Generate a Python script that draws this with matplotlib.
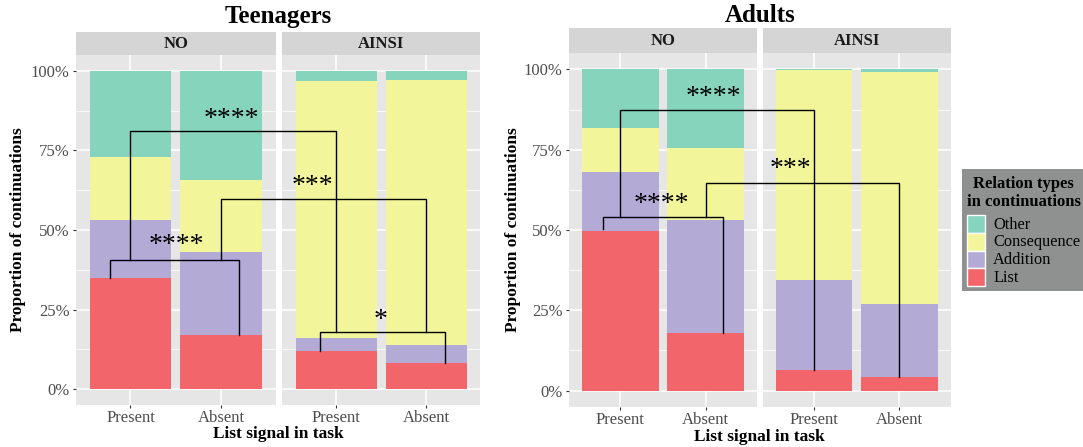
import matplotlib
matplotlib.use('Agg')
import matplotlib.pyplot as plt
from matplotlib.patches import Rectangle
from matplotlib.lines import Line2D
from matplotlib.transforms import offset_copy

plt.rcParams['font.family'] = ['Liberation Serif', 'DejaVu Serif']

# ---------------- data ----------------
relation_types = ['List', 'Addition', 'Consequence', 'Other']
relation_colors = ['#F2666B', '#B3AAD6', '#F3F59B', '#86D4BC']
facets = ['NO', 'AINSI']
conditions = ['Present', 'Absent']

# proportions, order: [Present, Absent] for each facet
teen_NO_list = [0.350, 0.171]
teen_NO_addition = [0.181, 0.260]
teen_NO_consequence = [0.200, 0.227]
teen_NO_other = [0.269, 0.342]
teen_AINSI_list = [0.121, 0.081]
teen_AINSI_addition = [0.039, 0.059]
teen_AINSI_consequence = [0.808, 0.831]
teen_AINSI_other = [0.032, 0.029]

adult_NO_list = [0.498, 0.180]
adult_NO_addition = [0.184, 0.350]
adult_NO_consequence = [0.134, 0.224]
adult_NO_other = [0.184, 0.246]
adult_AINSI_list = [0.065, 0.044]
adult_AINSI_addition = [0.278, 0.227]
adult_AINSI_consequence = [0.654, 0.720]
adult_AINSI_other = [0.003, 0.009]

# brackets: (facet_left, x_left, facet_right, x_right, y_top, y_left_end, y_right_end)
teen_brackets = [
    ('NO', 0.78, 'NO', 2.20, 0.405, 0.350, 0.171),
    ('NO', 1.00, 'AINSI', 1.00, 0.810, 0.405, 0.178),
    ('NO', 2.00, 'AINSI', 2.00, 0.598, 0.405, 0.178),
    ('AINSI', 0.82, 'AINSI', 2.21, 0.178, 0.121, 0.081),
]
teen_labels = [('NO', 2.11, 0.876, '****'), ('AINSI', 0.735, 0.664, '***'),
               ('NO', 1.51, 0.479, '****'), ('AINSI', 1.50, 0.242, '*')]
adult_brackets = [
    ('NO', 0.80, 'NO', 2.20, 0.540, 0.503, 0.178),
    ('NO', 1.00, 'AINSI', 1.00, 0.874, 0.540, 0.063),
    ('NO', 2.00, 'AINSI', 2.00, 0.646, 0.540, 0.041),
]
adult_labels = [('NO', 2.09, 0.940, '****'), ('AINSI', 0.72, 0.717, '***'),
                ('NO', 1.48, 0.608, '****')]

teen = {
    'NO': [teen_NO_list, teen_NO_addition, teen_NO_consequence, teen_NO_other],
    'AINSI': [teen_AINSI_list, teen_AINSI_addition, teen_AINSI_consequence, teen_AINSI_other],
}
adult = {
    'NO': [adult_NO_list, adult_NO_addition, adult_NO_consequence, adult_NO_other],
    'AINSI': [adult_AINSI_list, adult_AINSI_addition, adult_AINSI_consequence, adult_AINSI_other],
}

# ---------------- layout ----------------
W, H = 1083, 447
fig = plt.figure(figsize=(W / 100, H / 100), dpi=100)


def box(x0, x1, y0, y1):
    return [x0 / W, 1 - y1 / H, (x1 - x0) / W, (y1 - y0) / H]


PANEL_BG = '#E6E6E6'
STRIP_BG = '#D5D5D5'
TXT_GREY = '#4D4D4D'


def make_panel(data, facet_boxes, strip_y, panel_y):
    axes = {}
    for fi, facet in enumerate(facets):
        x0, x1 = facet_boxes[fi]
        ax = fig.add_axes(box(x0, x1, panel_y[0], panel_y[1]))
        ax.set_facecolor(PANEL_BG)
        xs = [1, 2]
        bottom = [0.0, 0.0]
        for vals, col in zip(data[facet], relation_colors):
            ax.bar(xs, vals, width=0.9, bottom=bottom, color=col, linewidth=0, zorder=2)
            bottom = [b + v for b, v in zip(bottom, vals)]
        ax.set_xlim(0.4, 2.6)
        ax.set_ylim(-0.05, 1.05)
        ax.set_xticks(xs)
        ax.set_xticklabels(conditions)
        ax.set_yticks([0, 0.25, 0.5, 0.75, 1.0])
        ax.set_yticks([0.125, 0.375, 0.625, 0.875], minor=True)
        ax.set_yticklabels(['0%', '25%', '50%', '75%', '100%'])
        ax.grid(True, which='major', color='white', lw=1.1, zorder=0)
        ax.grid(True, which='minor', axis='y', color='white', lw=0.55, zorder=0)
        ax.set_axisbelow(True)
        for s in ax.spines.values():
            s.set_visible(False)
        ax.tick_params(axis='both', which='major', length=2.5, width=0.8,
                       color='#333333', labelcolor=TXT_GREY, labelsize=12, pad=2)
        ax.tick_params(axis='x', which='major', pad=1.2)
        ax.tick_params(axis='y', which='minor', length=0)
        if fi > 0:
            ax.tick_params(axis='y', which='major', labelleft=False, length=0)
        # strip
        sax = fig.add_axes(box(x0, x1, strip_y[0], strip_y[1]))
        sax.set_facecolor(STRIP_BG)
        sax.set_xticks([]); sax.set_yticks([])
        for s in sax.spines.values():
            s.set_visible(False)
        sax.text(0.5, 0.5, facet, ha='center', va='center', fontsize=12,
                 fontweight='bold', color='#1A1A1A', transform=sax.transAxes)
        axes[facet] = ax
    return axes


teen_axes = make_panel(teen, [(76, 275.7), (282, 480)], (32, 55), (55, 405))
adult_axes = make_panel(adult, [(569, 756.7), (762.7, 950.7)], (28.3, 53.3), (53.3, 406.7))

inv = fig.transFigure.inverted()


def fpt(ax, x, y):
    return inv.transform(ax.transData.transform((x, y)))


def draw_brackets(axes, brackets, labels):
    for fl, xl, fr, xr, yt, yl, yr in brackets:
        p1 = fpt(axes[fl], xl, yl)
        p2 = fpt(axes[fl], xl, yt)
        p3 = fpt(axes[fr], xr, yt)
        p4 = fpt(axes[fr], xr, yr)
        fig.add_artist(Line2D([p1[0], p2[0], p3[0], p4[0]],
                              [p1[1], p2[1], p3[1], p4[1]],
                              transform=fig.transFigure, color='black', lw=1.0,
                              solid_joinstyle='miter', zorder=5))
    fs = 20
    for f, x, y, s in labels:
        ax = axes[f]
        tr = offset_copy(ax.transData, fig=fig, y=-0.55 * fs, units='points')
        ax.text(x, y, s, transform=tr, ha='center', va='baseline', fontsize=fs,
                color='black', zorder=6, clip_on=False)


draw_brackets(teen_axes, teen_brackets, teen_labels)
draw_brackets(adult_axes, adult_brackets, adult_labels)

# titles and axis titles
fig.text(278 / W, 1 - 16 / H, 'Teenagers', ha='center', va='center', fontsize=18, fontweight='bold')
fig.text(760 / W, 1 - 15 / H, 'Adults', ha='center', va='center', fontsize=18, fontweight='bold')
fig.text(278 / W, 1 - 433.5 / H, 'List signal in task', ha='center', va='center', fontsize=12.5, fontweight='bold')
fig.text(759 / W, 1 - 437 / H, 'List signal in task', ha='center', va='center', fontsize=12.5, fontweight='bold')
fig.text(18 / W, 1 - 230 / H, 'Proportion of continuations', ha='center', va='center',
         rotation=90, fontsize=12.5, fontweight='bold')
fig.text(513 / W, 1 - 230 / H, 'Proportion of continuations', ha='center', va='center',
         rotation=90, fontsize=12.5, fontweight='bold')

# legend (drawn in figure pixels, ggplot style)
fig.add_artist(Rectangle((962 / W, 1 - 291 / H), (W - 962) / W, 122 / H,
                         transform=fig.transFigure, facecolor='#8F9191',
                         edgecolor='none', zorder=1))
fig.text(1023.5 / W, 1 - 184 / H, 'Relation types', ha='center', va='center',
         fontsize=12, fontweight='bold', color='black', zorder=3)
fig.text(1023.5 / W, 1 - 202 / H, 'in continuations', ha='center', va='center',
         fontsize=12, fontweight='bold', color='black', zorder=3)
for i, (name, col) in enumerate(zip(relation_types[::-1], relation_colors[::-1])):
    ytop = 215 + 17.8 * i
    fig.add_artist(Rectangle((967 / W, 1 - (ytop + 17.8) / H), 18 / W, 17.8 / H,
                             transform=fig.transFigure, facecolor=col,
                             edgecolor='white', lw=1.0, zorder=2))
    fig.text(993 / W, 1 - (ytop + 9.5) / H, name, ha='left', va='center',
             fontsize=11.8, color='black', zorder=3)

fig.savefig('out.png', dpi=100)
